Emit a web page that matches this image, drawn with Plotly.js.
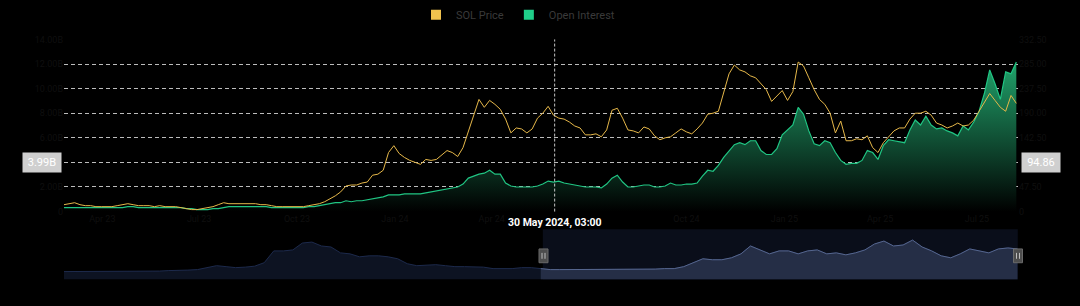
<!DOCTYPE html>
<html>
<head>
<meta charset="utf-8">
<script src="https://cdn.plot.ly/plotly-3.0.1.min.js"></script>
<style>
html,body{margin:0;padding:0;background:#000;}
#chart{width:1080px;height:306px;}
</style>
</head>
<body>
<div id="chart"></div>
<script>
// ---------------- DATA ----------------
const mainStart = '2023-02-24';
const mainEnd = '2025-08-08 14:00';
const mainStepDays = 5;

// SOL price (USD)
const solPrice = [13.3,15.2,17.1,13.3,11.4,11.4,9.5,9.5,9.5,9.5,
  11.4,13.3,15.2,13.3,11.4,11.4,11.4,9.5,11.4,9.5,
  9.5,9.5,7.6,5.7,3.8,3.8,5.7,7.6,9.5,13.3,
  17.1,15.2,15.2,15.2,15.2,15.2,15.2,13.3,13.3,11.4,
  9.5,9.5,9.5,9.5,9.5,9.5,11.4,13.3,15.2,19,
  24.7,30.4,38,49.4,51.3,51.3,55.1,57,70.3,72.2,
  79.8,114,127.3,112.1,104.5,98.8,95,91.2,100.7,98.8,
  100.7,110.2,117.8,114,106.4,123.5,155.8,186.2,216.6,201.4,
  214.7,207.1,197.6,178.6,152,161.5,159.6,152,159.6,180.5,
  190,203.3,186.2,180.5,178.6,172.9,165.3,161.5,148.2,148.2,
  150.1,144.4,157.7,195.7,199.5,180.5,157.7,155.8,152,163.4,
  159.6,146.3,138.7,142.5,144.4,152,159.6,153.9,150.1,159.6,
  171,188.1,190,193.8,231.8,266,283.1,273.6,269.8,262.2,
  258.4,247,235.6,212.8,222.3,233.7,214.7,231.8,288.8,281.2,
  258.4,235.6,216.6,207.1,190,152,174.8,136.8,136.8,140.6,
  138.7,146.3,123.5,114,133,144.4,155.8,161.5,161.5,178.6,
  190,190,193.8,186.2,171,167.2,161.5,165.3,171,165.3,
  167.2,176.7,193.8,209,228,214.7,201.4,193.8,224.2,209];

// Open interest (billion USD)
const openInterest = [0.32,0.32,0.32,0.32,0.32,0.32,0.32,0.32,0.32,0.32,
  0.32,0.32,0.40,0.40,0.32,0.32,0.32,0.32,0.32,0.32,
  0.32,0.32,0.32,0.24,0.24,0.16,0.16,0.16,0.24,0.24,
  0.32,0.40,0.40,0.40,0.40,0.40,0.40,0.40,0.40,0.32,
  0.32,0.32,0.32,0.32,0.32,0.32,0.40,0.40,0.48,0.56,
  0.64,0.72,0.72,0.88,0.80,0.88,0.88,0.96,1.04,1.12,
  1.20,1.36,1.36,1.36,1.44,1.44,1.44,1.44,1.52,1.60,
  1.68,1.76,1.84,1.92,2.00,2.24,2.72,2.88,3.04,3.12,
  3.36,3.04,3.04,2.32,2.08,2.00,2.00,2.00,2.00,2.08,
  2.24,2.48,2.40,2.48,2.32,2.24,2.16,2.08,2.00,2.00,
  2.00,1.92,2.24,2.72,2.96,2.40,2.00,2.00,2.08,2.16,
  2.16,2.00,2.00,2.08,2.32,2.16,2.16,2.24,2.24,2.32,
  2.88,3.36,3.28,3.76,4.40,4.96,5.44,5.60,5.44,5.76,
  5.76,4.96,4.64,4.64,5.12,6.24,6.64,7.04,8.48,7.92,
  6.56,5.52,5.36,5.76,5.60,4.80,4.16,3.84,3.92,3.92,
  4.16,4.96,4.80,4.24,5.36,5.84,5.76,5.68,5.60,6.64,
  7.44,7.04,7.76,7.04,6.72,6.80,6.56,6.40,6.16,6.96,
  6.64,7.28,8.16,9.60,11.52,10.40,9.12,11.36,11.20,12.16];

// Navigator (full-history price overview)
const navStart = '2020-09-03';
const navEnd = '2025-08-09';
const navStepDays = 18;
const navPrice = [56,56,56,56,56,56,56,56,56,56,
  59.5,63,63,66.5,70,84,98,91,84,87.5,
  94.5,119,203,203,210,259,266,238,231,189,
  182,161,168,168,161,147,112,98,101.5,105,
  98,91,91,91,87.5,77,77,77,84,84,
  77,70,70,70,70,70,70,70,70,70,
  70,73.5,73.5,77,77,91,119,147,140,140,
  154,182,238,210,182,203,203,182,203,210,
  182,189,175,189,210,252,273,238,245,280,
  231,203,168,154,182,217,203,189,217,224,217];
const navWindowFrom = 50;

const seriesNames = ['SOL Price', 'Open Interest'];
const leftTickVals = [0,2,4,6,8,10,12,14];
const leftTickText = ['0','2.00B','','6.00B','8.00B','10.00B','12.00B','14.00B'];
const rightTickVals = [0,47.5,95,142.5,190,237.5,285,332.5];
const rightTickText = ['0','47.50','','142.50','190.00','237.50','285.00','332.50'];
const xTickVals = ['2023-04-01','2023-07-01','2023-10-01','2024-01-01','2024-04-01',
  '2024-10-01','2025-01-01','2025-04-01','2025-07-01'];
const xTickText = ['Apr 23','Jul 23','Oct 23','Jan 24','Apr 24','Oct 24','Jan 25','Apr 25','Jul 25'];

const hoverDate = '2024-05-30 03:00';
const hoverDateLabel = '30 May 2024, 03:00';
const hoverOI = 3.99, hoverOILabel = '3.99B';
const hoverPrice = 94.86, hoverPriceLabel = '94.86';

// ---------------- BUILD ----------------
function dateSeries(start, stepDays, n) {
  const t0 = Date.parse(start + 'T00:00:00Z');
  const out = [];
  for (let i = 0; i < n; i++) out.push(new Date(t0 + i * stepDays * 864e5).toISOString().slice(0, 10));
  return out;
}
const mainDates = dateSeries(mainStart, mainStepDays, solPrice.length);
const navDates = dateSeries(navStart, navStepDays, navPrice.length);

const W = 1080, H = 306;
const px = x => x / W;
const py = y => 1 - y / H;

const COL_PRICE = '#e6b84a';
const COL_OI = '#20c583';
const FONT = 'Roboto, "Open Sans", sans-serif';
const DIM = '#0f0f0f';

const traces = [
  {
    x: mainDates, y: openInterest, xaxis: 'x', yaxis: 'y',
    type: 'scatter', mode: 'lines', name: seriesNames[1], showlegend: false,
    line: {color: COL_OI, width: 1.2},
    fill: 'tozeroy',
    fillgradient: {type: 'vertical', start: 0, stop: 13,
      colorscale: [[0, 'rgb(0,0,0)'], [0.3, '#0b3523'], [1, '#23ad72']]},
    hoverinfo: 'skip'
  },
  {
    x: mainDates, y: solPrice, xaxis: 'x', yaxis: 'y2',
    type: 'scatter', mode: 'lines', name: seriesNames[0], showlegend: false,
    line: {color: COL_PRICE, width: 1},
    hoverinfo: 'skip'
  },
  {
    x: navDates, y: navPrice, xaxis: 'x2', yaxis: 'y3',
    type: 'scatter', mode: 'lines', showlegend: false,
    line: {color: '#1d2a4c', width: 1}, fill: 'tozeroy', fillcolor: '#0d1322',
    hoverinfo: 'skip'
  },
  {
    x: navDates.slice(navWindowFrom), y: navPrice.slice(navWindowFrom), xaxis: 'x2', yaxis: 'y3',
    type: 'scatter', mode: 'lines', showlegend: false,
    line: {color: '#56668e', width: 1}, fill: 'tozeroy', fillcolor: '#252e46',
    hoverinfo: 'skip'
  },
  { x: [null], y: [null], type: 'scatter', mode: 'markers', name: seriesNames[0],
    marker: {symbol: 'square', size: 10, color: '#f0c24e'}, xaxis: 'x', yaxis: 'y2' },
  { x: [null], y: [null], type: 'scatter', mode: 'markers', name: seriesNames[1],
    marker: {symbol: 'square', size: 10, color: '#20cf8a'}, xaxis: 'x', yaxis: 'y' }
];

const gridColor = 'rgba(235,235,235,0.8)';

const handle = (cx) => ([
  {type: 'rect', xref: 'paper', yref: 'paper', x0: px(cx - 4.5), x1: px(cx + 4.5), y0: py(262), y1: py(248),
   fillcolor: '#4d4d4d', line: {color: '#6a6a6a', width: 1}, layer: 'above'},
  {type: 'line', xref: 'paper', yref: 'paper', x0: px(cx - 1.5), x1: px(cx - 1.5), y0: py(258), y1: py(252),
   line: {color: '#bdbdbd', width: 1}},
  {type: 'line', xref: 'paper', yref: 'paper', x0: px(cx + 1.5), x1: px(cx + 1.5), y0: py(258), y1: py(252),
   line: {color: '#bdbdbd', width: 1}}
]);

const layout = {
  width: W, height: H,
  margin: {l: 0, r: 0, t: 0, b: 0},
  paper_bgcolor: '#000', plot_bgcolor: '#000',
  font: {family: FONT, color: '#3a3a3a', size: 10},
  showlegend: true,
  legend: {orientation: 'h', x: 0.5 - 22 / W, xanchor: 'center', y: py(10), yanchor: 'middle',
    font: {family: FONT, size: 11, color: '#3a3a3a'}, bgcolor: 'rgba(0,0,0,0)', itemwidth: 30,
    traceorder: 'normal'},
  xaxis: {
    domain: [px(64), px(1018)], type: 'date', range: [mainStart, mainEnd],
    tickvals: xTickVals, ticktext: xTickText,
    showgrid: false, zeroline: false, showline: false, ticks: '',
    tickfont: {color: DIM, size: 9}, anchor: 'y', fixedrange: true
  },
  yaxis: {
    domain: [py(210), py(35)], range: [0, 14], tickvals: leftTickVals, ticktext: leftTickText,
    showgrid: true, gridcolor: gridColor, griddash: '4px,3px', gridwidth: 1,
    zeroline: false, showline: false, ticks: '',
    tickfont: {color: DIM, size: 9}, anchor: 'x', fixedrange: true
  },
  yaxis2: {
    overlaying: 'y', side: 'right', range: [0, 332.5], tickvals: rightTickVals, ticktext: rightTickText,
    showgrid: false, zeroline: false, showline: false, ticks: '',
    tickfont: {color: DIM, size: 9}, anchor: 'x', fixedrange: true
  },
  xaxis2: {
    domain: [px(64), px(1018)], type: 'date', range: [navStart, navEnd],
    showgrid: false, zeroline: false, showline: false, showticklabels: false, ticks: '', anchor: 'y3', fixedrange: true
  },
  yaxis3: {
    domain: [py(279), py(228)], range: [0, 357],
    showgrid: false, zeroline: false, showline: false, showticklabels: false, ticks: '', anchor: 'x2', fixedrange: true
  },
  shapes: [
    {type: 'rect', xref: 'x2', yref: 'paper', x0: mainStart, x1: mainEnd, y0: py(279), y1: py(228),
     fillcolor: '#0a0e1a', line: {width: 0}, layer: 'below'},
    {type: 'line', xref: 'x', yref: 'paper', x0: hoverDate, x1: hoverDate, y0: py(210), y1: py(35),
     line: {color: 'rgba(230,230,230,0.85)', width: 1, dash: '3px,2px'}},
    ...handle(543.5), ...handle(1018)
  ],
  annotations: [
    {xref: 'x', yref: 'paper', x: hoverDate, y: py(221), text: '<b>' + hoverDateLabel + '</b>', showarrow: false,
     font: {family: FONT, size: 10.5, color: '#ffffff'}, xanchor: 'center', yanchor: 'middle'},
    {xref: 'paper', yref: 'y', x: px(41.5), y: hoverOI, text: hoverOILabel, showarrow: false,
     font: {family: FONT, size: 11, color: '#ffffff'}, bgcolor: '#cfcfcf', borderpad: 3, width: 32,
     xanchor: 'center', yanchor: 'middle'},
    {xref: 'paper', yref: 'y2', x: px(1040.5), y: hoverPrice, text: hoverPriceLabel, showarrow: false,
     font: {family: FONT, size: 11, color: '#ffffff'}, bgcolor: '#cfcfcf', borderpad: 3, width: 32,
     xanchor: 'center', yanchor: 'middle'}
  ]
};

Plotly.newPlot('chart', traces, layout, {displayModeBar: false, staticPlot: true});
</script>
</body>
</html>
